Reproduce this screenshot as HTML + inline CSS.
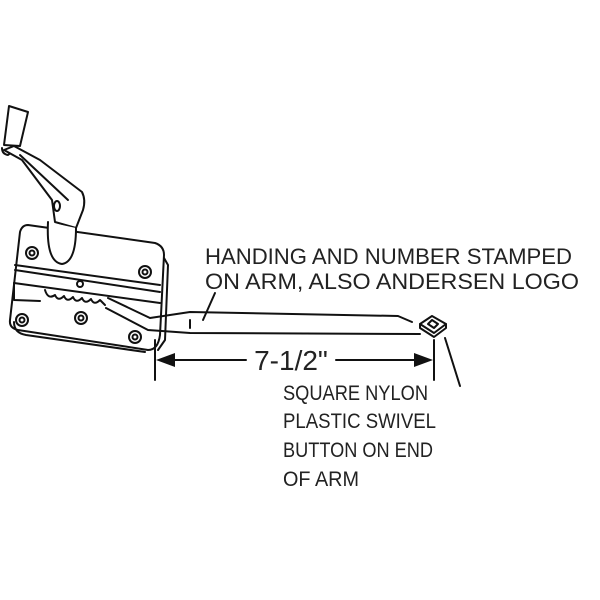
<!DOCTYPE html>
<html><head><style>
html,body{margin:0;padding:0;background:#fff;}
svg{display:block}
text{font-family:"Liberation Sans",Arial,sans-serif;fill:#222;}
</style></head><body>
<svg width="600" height="600" viewBox="0 0 600 600" xmlns="http://www.w3.org/2000/svg">
<g fill="none" stroke="#111" stroke-width="2" stroke-linejoin="round" stroke-linecap="round">
<path d="M9,106 L28,112 L20,146 L4,145 Z" fill="#fff"/>
<path d="M2,148 Q2,154 8,155 L12,152"/>
<path d="M4,150 L14,146 L40,160 L82,192 Q86,200 83,210 L76,228 L55,222 L52,200 L22,160 Z" fill="#fff"/>
<path d="M20,155 L68,200"/>
<ellipse cx="57" cy="206" rx="3" ry="5"/>
<path d="M28,225 L155,243 Q164,246 164,255 L160,335 Q158,350 148,350 L18,330 Q9,328 10,320 L20,232 Q22,225 28,225 Z" fill="#fff"/>
<path d="M14,322 Q14,333 26,335 L145,352"/>
<path d="M164,258 L168,265 L165,340 L158,350"/>
<path d="M48,222 Q46,262 62,264 Q76,262 76,228" fill="#fff"/>
<path d="M15,265 L160,285"/>
<path d="M15,270 L160,292"/>
<path d="M14,283 L160,303"/>
<path d="M14,283 L14,300 L40,301"/>
<circle cx="32" cy="253" r="6"/><circle cx="32" cy="253" r="2.5"/>
<circle cx="145" cy="272" r="6"/><circle cx="145" cy="272" r="2.5"/>
<circle cx="22" cy="320" r="6"/><circle cx="22" cy="320" r="2.5"/>
<circle cx="81" cy="318" r="6"/><circle cx="81" cy="318" r="2.5"/>
<circle cx="135" cy="337" r="6"/><circle cx="135" cy="337" r="2.5"/>
<circle cx="80" cy="284" r="3"/>
<path d="M45,290 Q48,300 55,295 Q58,302 64,296 Q67,303 73,297 Q76,304 82,298 Q85,305 91,299 Q94,306 100,300 L105,305"/>
<path d="M108,298 L150,318 L190,312 L398,316 L412,322"/>
<path d="M106,308 L148,330 L190,333 L420,334"/>
<path d="M190,320 L190,328"/>
<path d="M420,324 L432,316 L446,324 L434,333 Z" fill="#fff"/>
<path d="M420,324 L420,328 L434,337 L446,328 L446,324"/>
<path d="M428,324 L432,320 L438,324 L434,328 Z"/>
<path d="M215,293 L203,320"/>
<path d="M445,338 L460,386"/>
<path d="M155,340 L155,380 M434,340 L434,380"/>
<path d="M170,360 L246,360 M336,360 L420,360"/>
</g>
<path d="M156,360 L175,353 L175,367 Z" fill="#111"/>
<path d="M433,360 L414,353 L414,367 Z" fill="#111"/>
<text x="291" y="370" font-size="28" text-anchor="middle">7-1/2"</text>
<text x="205" y="264" font-size="22" textLength="367" lengthAdjust="spacingAndGlyphs">HANDING AND NUMBER STAMPED</text>
<text x="205" y="289" font-size="22" textLength="374" lengthAdjust="spacingAndGlyphs">ON ARM, ALSO ANDERSEN LOGO</text>
<text x="283" y="400" font-size="21" textLength="145" lengthAdjust="spacingAndGlyphs">SQUARE NYLON</text>
<text x="283" y="428" font-size="21" textLength="153" lengthAdjust="spacingAndGlyphs">PLASTIC SWIVEL</text>
<text x="283" y="457" font-size="21" textLength="150" lengthAdjust="spacingAndGlyphs">BUTTON ON END</text>
<text x="283" y="486" font-size="21" textLength="76" lengthAdjust="spacingAndGlyphs">OF ARM</text>
</svg>
</body></html>
